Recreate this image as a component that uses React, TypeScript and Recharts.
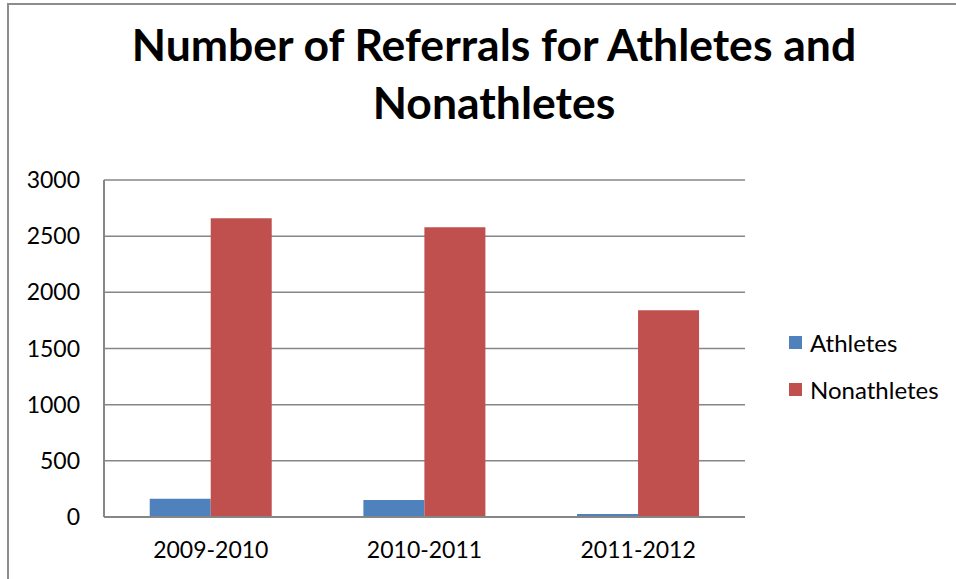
import { BarChart, Bar, XAxis, YAxis, CartesianGrid } from 'recharts'

const seasons = ['2009-2010', '2010-2011', '2011-2012']
const athletes = [163, 151, 27]
const nonathletes = [2660, 2580, 1840]
const yTicks = [0, 500, 1000, 1500, 2000, 2500, 3000]

const data = seasons.map((season, i) => ({
  season,
  athletes: athletes[i],
  nonathletes: nonathletes[i],
}))

const font = 'Lato, "Open Sans", sans-serif'
const BLUE = '#4F81BD'
const RED = '#C0504D'

const legendItems = [
  { name: 'Athletes', color: BLUE },
  { name: 'Nonathletes', color: RED },
]

export default function App() {
  return (
    <div style={{ position: 'absolute', left: 0, top: 0, width: 956, height: 579, background: '#fff', overflow: 'hidden' }}>
      <div
        style={{
          position: 'absolute',
          left: 7,
          top: 3,
          width: 980,
          height: 600,
          border: '2px solid #8c8c8c',
        }}
      />
      <div
        style={{
          position: 'absolute',
          left: 0,
          top: 15,
          width: 988,
          textAlign: 'center',
          fontFamily: font,
          fontWeight: 'bold',
          fontSize: 44.5,
          lineHeight: '58px',
          color: '#000',
        }}
      >
        Number of Referrals for Athletes and
        <br />
        Nonathletes
      </div>
      <BarChart
        width={956}
        height={579}
        data={data}
        margin={{ top: 180, right: 211, bottom: 32, left: 0 }}
        barGap={0}
        barCategoryGap="21.4%"
        style={{ position: 'absolute', left: 0, top: 0 }}
      >
        <CartesianGrid yAxisId="left" vertical={false} stroke="#868686" strokeWidth={1.5} />
        <XAxis
          dataKey="season"
          height={30}
          axisLine={{ stroke: '#868686', strokeWidth: 2 }}
          tickLine={false}
          tick={{ fontFamily: font, fontSize: 23, fill: '#000' }}
          tickMargin={19}
        />
        <YAxis
          yAxisId="left"
          domain={[0, 3000]}
          ticks={yTicks}
          width={104}
          axisLine={{ stroke: '#868686', strokeWidth: 2 }}
          tickLine={false}
          tick={{ fontFamily: font, fontSize: 23, fill: '#000' }}
          tickMargin={18}
        />
        <YAxis
          yAxisId="right"
          orientation="right"
          domain={[0, 3000]}
          width={0}
          tick={false}
          tickLine={false}
          axisLine={{ stroke: '#868686', strokeWidth: 1.5 }}
        />
        <Bar yAxisId="left" dataKey="athletes" name="Athletes" fill={BLUE} isAnimationActive={false} />
        <Bar yAxisId="left" dataKey="nonathletes" name="Nonathletes" fill={RED} isAnimationActive={false} />
      </BarChart>
      <div style={{ position: 'absolute', left: 789, top: 319, fontFamily: font, fontSize: 24, color: '#000' }}>
        {legendItems.map((it) => (
          <div key={it.name} style={{ display: 'flex', alignItems: 'center', height: 47 }}>
            <span style={{ width: 13, height: 13, background: it.color, marginRight: 8 }} />
            {it.name}
          </div>
        ))}
      </div>
    </div>
  )
}
